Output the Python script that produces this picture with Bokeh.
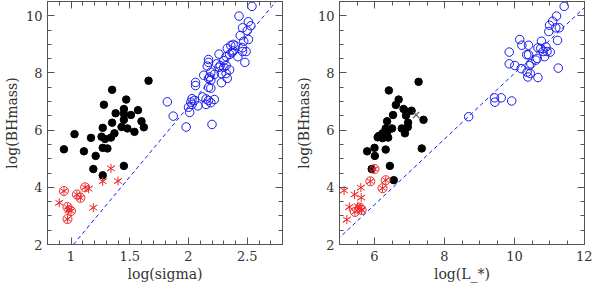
from bokeh.plotting import figure
from bokeh.layouts import row
from bokeh.models import LinearAxis, SingleIntervalTicker, Slope, Range1d, CustomJSTickFormatter
from bokeh.embed import file_html
from bokeh.resources import INLINE

# ---------------- data: left panel (log sigma) ----------------
sig_black_x = [1.03, 1.17, 1.26, 1.29, 1.34, 1.37, 1.27, 1.35, 1.43, 1.48, 1.54, 1.62, 1.60, 1.45, 1.45,
               1.45, 1.38, 1.51, 1.57, 1.47, 1.28, 1.35, 1.66, 0.94, 1.11, 1.21, 1.27, 1.31, 1.19, 1.45, 1.27]
sig_black_y = [5.86, 5.73, 5.77, 5.69, 5.74, 5.89, 6.08, 6.26, 6.11, 6.06, 5.94, 6.10, 6.31, 6.36, 6.57,
               6.74, 6.59, 6.53, 6.70, 7.07, 6.89, 7.41, 7.73, 5.33, 5.26, 5.10, 5.38, 5.36, 4.64, 4.75, 4.42]

sig_blue_x = [2.54, 2.43, 2.51, 2.53, 2.46, 2.50, 2.51, 2.47, 2.36, 2.38, 2.33, 2.38, 2.46, 2.46, 2.49,
              2.37, 2.35, 2.26, 2.42, 2.32, 2.30, 2.17, 2.17, 2.48, 2.24, 2.27, 2.32, 2.30, 2.16, 2.35,
              2.19, 2.28, 2.32, 2.13, 2.18, 2.17, 2.19, 2.33, 2.06, 2.06, 2.28, 2.17, 2.19, 1.82, 2.03,
              2.05, 2.02, 2.12, 2.15, 2.17, 2.22, 2.19, 2.15, 2.08, 2.03, 2.00, 2.01, 1.87, 1.98, 2.20,
              2.26, 2.22, 2.40, 2.44]
sig_blue_y = [10.33, 9.99, 9.79, 9.65, 9.58, 9.48, 9.17, 9.11, 8.96, 9.00, 8.86, 8.77, 8.88, 8.75, 8.75,
              8.71, 8.65, 8.66, 8.57, 8.57, 8.43, 8.47, 8.37, 8.37, 8.32, 8.26, 8.26, 8.20, 8.24, 8.11,
              8.03, 7.98, 7.98, 7.92, 7.86, 7.81, 7.75, 7.81, 7.67, 7.56, 7.66, 7.50, 7.47, 6.99, 7.10,
              7.04, 6.98, 7.16, 7.09, 7.04, 7.07, 6.96, 6.90, 6.85, 6.90, 6.80, 6.62, 6.49, 6.11, 6.20,
              8.20, 7.95, 8.95, 9.31]

sig_redc_x = [0.94, 1.05, 1.08, 1.12, 0.97, 1.00, 0.97]
sig_redc_y = [3.87, 3.75, 3.63, 4.00, 3.31, 3.17, 2.89]
sig_reds_x = [0.90, 0.98, 1.15, 1.19, 1.27, 1.34, 1.40]
sig_reds_y = [3.46, 3.21, 3.95, 3.29, 4.21, 4.66, 4.22]

sig_fit_slope = 4.93
sig_fit_intercept = -3.03

# ---------------- data: right panel (log L_*) ----------------
lum_black_x = [7.26, 6.41, 6.69, 6.61, 6.83, 6.92, 7.06, 6.90, 6.53, 7.40, 6.96, 6.95, 6.78, 6.87, 6.36, 6.50,
               6.32, 6.36, 6.23, 6.13, 6.09, 6.23, 6.39, 5.79, 6.00, 6.32, 6.01, 7.35, 5.92, 6.44, 6.55]
lum_black_y = [7.69, 7.39, 7.07, 6.88, 6.74, 6.65, 6.68, 6.51, 6.53, 6.36, 6.26, 6.11, 6.06, 5.89, 6.31, 6.06,
               6.06, 5.91, 5.89, 5.80, 5.75, 5.72, 5.74, 5.26, 5.38, 5.32, 5.10, 5.36, 4.64, 4.75, 4.25]

lum_cross_x = [7.19]
lum_cross_y = [6.53]

lum_blue_x = [11.42, 11.20, 11.09, 11.00, 11.18, 11.28, 10.98, 11.23, 10.15, 10.21, 10.40, 10.77, 10.67,
              10.75, 10.90, 10.82, 10.93, 10.35, 10.40, 9.85, 11.02, 10.86, 10.65, 10.61, 9.85, 10.01,
              10.42, 10.47, 10.19, 11.25, 10.36, 10.45, 10.38, 10.67, 8.69, 9.43, 9.44, 9.62, 9.92]
lum_blue_y = [10.33, 9.99, 9.81, 9.67, 9.58, 9.58, 9.45, 9.14, 9.17, 8.97, 8.97, 9.11, 8.88,
              8.86, 8.91, 8.75, 8.75, 8.64, 8.64, 8.73, 8.73, 8.57, 8.51, 8.45, 8.32, 8.26,
              8.26, 8.32, 8.15, 8.17, 8.03, 7.98, 7.86, 7.84, 6.47, 7.13, 6.98, 7.13, 7.02]

lum_redc_x = [6.00, 5.88, 6.32, 6.23, 5.44, 5.58, 5.63]
lum_redc_y = [4.64, 4.21, 4.25, 3.97, 3.14, 3.29, 3.21]
lum_reds_x = [5.13, 5.43, 5.61, 5.62, 5.28, 5.21, 5.52, 5.63]
lum_reds_y = [3.89, 3.75, 3.99, 3.64, 3.31, 2.87, 3.34, 3.21]

lum_fit_slope = 1.15
lum_fit_intercept = -3.51

x_label_left = "log(sigma)"
x_label_right = "log(L_*)"
y_label = "log(BHmass)"

FONT = "DejaVu Serif"
AX = "#555555"
TXT = "#333333"
RED = "#ee2a2a"
BLUE = "#1a1aee"


def style_axis(ax, show_labels):
    ax.axis_line_color = AX
    ax.major_tick_line_color = AX
    ax.minor_tick_line_color = AX
    ax.major_tick_in = 7
    ax.major_tick_out = 0
    ax.minor_tick_in = 4
    ax.minor_tick_out = 0
    ax.major_label_text_font = FONT
    ax.major_label_text_color = TXT
    ax.major_label_text_font_size = "13px"
    ax.axis_label_text_font = FONT
    ax.axis_label_text_color = TXT
    ax.axis_label_text_font_style = "normal"
    ax.axis_label_text_font_size = "14px"
    if not show_labels:
        ax.formatter = CustomJSTickFormatter(code="return ''")
        ax.major_label_standoff = 0


def make_panel(width, xr, xint, xminor, xlabel, border_left, border_right):
    p = figure(width=width, height=284, output_backend="svg", toolbar_location=None,
               x_range=Range1d(*xr), y_range=Range1d(2, 10.5),
               min_border_left=border_left, min_border_right=border_right,
               min_border_top=1, min_border_bottom=39)
    p.grid.visible = False
    p.outline_line_color = AX
    p.background_fill_color = "white"
    p.border_fill_color = "white"
    p.xaxis.ticker = SingleIntervalTicker(interval=xint, num_minor_ticks=xminor)
    p.yaxis.ticker = SingleIntervalTicker(interval=2, num_minor_ticks=4)
    p.xaxis.axis_label = xlabel
    p.yaxis.axis_label = y_label
    for ax in p.xaxis + p.yaxis:
        style_axis(ax, True)
    p.xaxis.major_label_standoff = 6
    p.xaxis.axis_label_standoff = 2
    p.yaxis.major_label_standoff = 5
    p.yaxis.axis_label_standoff = 3
    top = LinearAxis(ticker=SingleIntervalTicker(interval=xint, num_minor_ticks=xminor))
    right = LinearAxis(ticker=SingleIntervalTicker(interval=2, num_minor_ticks=4))
    style_axis(top, False)
    style_axis(right, False)
    p.add_layout(top, "above")
    p.add_layout(right, "right")
    return p


def six_star(p, xs, ys, size):
    p.scatter(xs, ys, marker="y", size=size, fill_alpha=0, line_color=RED, line_width=1)
    p.scatter(xs, ys, marker="y", angle=3.14159265, size=size, fill_alpha=0, line_color=RED, line_width=1)


# left panel
p1 = make_panel(292, (0.8, 2.8), 0.5, 5, x_label_left, 30, 10)
p1.add_layout(Slope(gradient=sig_fit_slope, y_intercept=sig_fit_intercept,
                    line_color=BLUE, line_dash="4 3", line_width=1))
p1.scatter(sig_black_x, sig_black_y, marker="circle", size=7.5, fill_color="black", line_color="black")
p1.scatter(sig_blue_x, sig_blue_y, marker="circle", size=8.5, fill_alpha=0, line_color=BLUE, line_width=1)
p1.scatter(sig_redc_x, sig_redc_y, marker="circle", size=9, fill_alpha=0, line_color=RED, line_width=1)
six_star(p1, sig_redc_x, sig_redc_y, 7.5)
six_star(p1, sig_reds_x, sig_reds_y, 9)

# right panel
p2 = make_panel(300, (5, 12), 2, 4, x_label_right, 39, 8)
p2.add_layout(Slope(gradient=lum_fit_slope, y_intercept=lum_fit_intercept,
                    line_color=BLUE, line_dash="4 3", line_width=1))
p2.scatter(lum_black_x, lum_black_y, marker="circle", size=7.5, fill_color="black", line_color="black")
p2.scatter(lum_cross_x, lum_cross_y, marker="x", size=9, line_color="#555555", line_width=1.2)
p2.scatter(lum_blue_x, lum_blue_y, marker="circle", size=8.5, fill_alpha=0, line_color=BLUE, line_width=1)
p2.scatter(lum_redc_x, lum_redc_y, marker="circle", size=9, fill_alpha=0, line_color=RED, line_width=1)
six_star(p2, lum_redc_x, lum_redc_y, 7.5)
six_star(p2, lum_reds_x, lum_reds_y, 9)

layout = row(p1, p2)
open("out.html", "w").write(file_html(layout, INLINE))
